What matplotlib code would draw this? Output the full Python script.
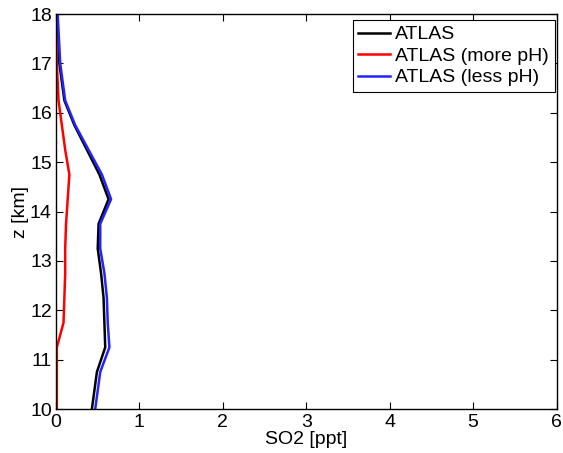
import numpy as np
import matplotlib.pyplot as plt

plt.rcParams['font.family'] = ['Liberation Sans', 'DejaVu Sans']

# niveaux d'altitude (km) et SO2 (ppt)
z_atlas = [10.0, 10.75, 11.25, 11.75, 12.25, 12.75, 13.25, 13.75, 14.25, 14.75, 15.25, 15.75, 16.25, 17.0, 18.0]
so2_atlas = [0.43, 0.49, 0.59, 0.58, 0.57, 0.54, 0.50, 0.51, 0.63, 0.52, 0.37, 0.22, 0.10, 0.04, 0.01]

z_more = [10.0, 10.75, 11.25, 11.75, 12.25, 12.75, 13.25, 13.75, 14.25, 14.75, 15.25, 15.75, 16.25, 17.0, 18.0]
so2_more = [0.01, 0.01, 0.01, 0.09, 0.10, 0.11, 0.11, 0.12, 0.14, 0.16, 0.11, 0.07, 0.03, 0.01, 0.0]

z_less = [10.0, 10.75, 11.25, 11.75, 12.25, 12.75, 13.25, 13.75, 14.25, 14.75, 15.25, 15.75, 16.25, 17.0, 18.0]
so2_less = [0.47, 0.53, 0.64, 0.62, 0.61, 0.58, 0.53, 0.53, 0.66, 0.55, 0.39, 0.23, 0.11, 0.05, 0.02]

fig = plt.figure(figsize=(5.63, 4.53), dpi=100)
ax = fig.add_axes([0.0995, 0.097, 0.889, 0.872])

ax.plot(so2_atlas, z_atlas, color='black', lw=1.8, label='ATLAS')
ax.plot(so2_more, z_more, color='red', lw=1.8, label='ATLAS (more pH)')
ax.plot(so2_less, z_less, color='#2323ff', lw=1.8, label='ATLAS (less pH)')

ax.set_xlim(0, 6)
ax.set_ylim(10, 18)
ax.set_xticks(range(0, 7))
ax.set_yticks(range(10, 19))
ax.tick_params(direction='in', top=True, right=True, length=5, width=0.8, labelsize=14, pad=2)
ax.tick_params(axis='x', pad=3.5)
ax.tick_params(axis='y', pad=3)
for s in ax.spines.values():
    s.set_linewidth(1.0)

ax.set_xlabel('SO2 [ppt]', fontsize=14, labelpad=0)
ax.set_ylabel('z [km]', fontsize=14, labelpad=1)

leg = ax.legend(loc='upper right', fontsize=14, frameon=True, fancybox=False,
                edgecolor='black', framealpha=1, borderpad=0.3, labelspacing=0.2,
                handlelength=1.6, handletextpad=0.3, borderaxespad=0.0,
                bbox_to_anchor=(0.997, 0.985))
leg.get_frame().set_linewidth(0.8)

fig.savefig('out.png', dpi=100)
